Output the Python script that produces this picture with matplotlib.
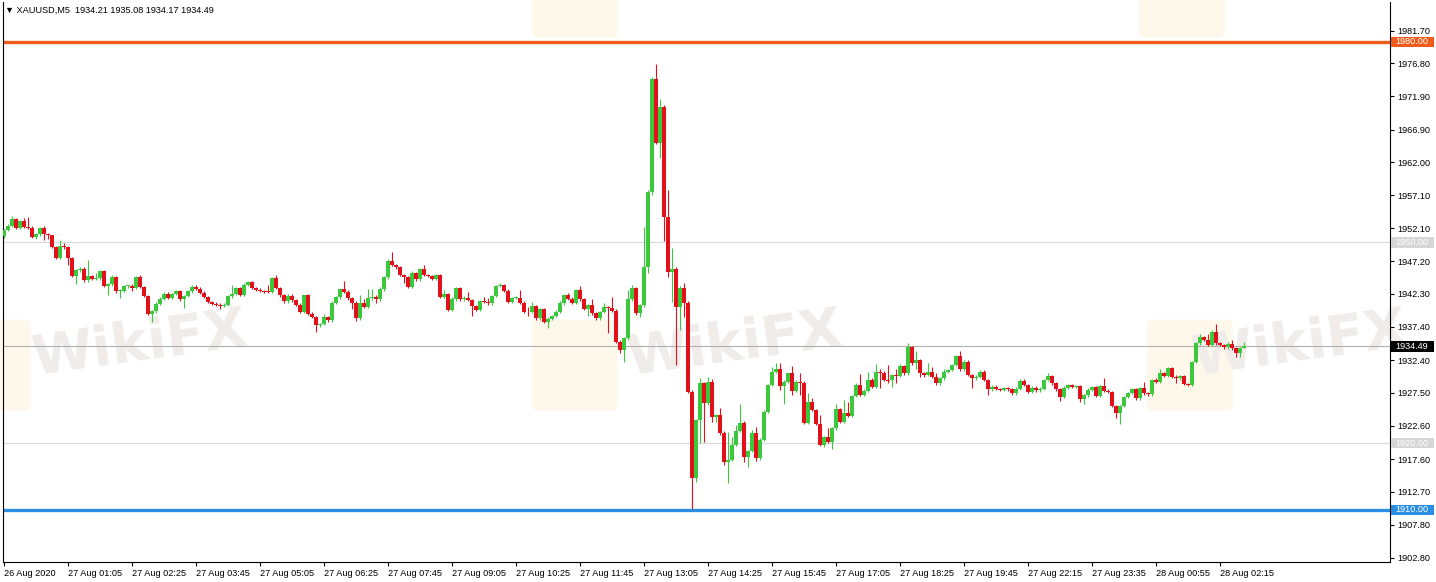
import numpy as np
import matplotlib.pyplot as plt
from matplotlib.patches import Rectangle, FancyBboxPatch
import matplotlib.transforms as mtransforms

# ---- data (XAUUSD M5) ----
first_open = 1950.9
closes = [
    1951.85, 1952.5, 1953.5, 1952.2, 1953.2, 1952.35, 1952.2, 1950.85, 1951.2, 1952.2,
    1951.2, 1951.15, 1949.35, 1947.75, 1949.5, 1949.3, 1947.7, 1945.0, 1945.85, 1946.1,
    1944.35, 1945.0, 1944.6, 1944.65, 1945.75, 1943.5, 1943.75, 1944.8, 1942.7, 1942.8,
    1943.45, 1943.5, 1943.25, 1944.8, 1943.35, 1942.0, 1939.35, 1939.7, 1940.85, 1941.6,
    1942.35, 1941.7, 1942.3, 1942.7, 1941.5, 1942.0, 1942.7, 1943.4, 1943.1, 1942.5,
    1941.85, 1941.1, 1940.85, 1940.7, 1940.5, 1940.7, 1941.95, 1942.3, 1943.15, 1942.2,
    1943.7, 1944.05, 1943.2, 1942.95, 1942.75, 1942.7, 1942.65, 1944.7, 1943.2, 1942.1,
    1941.2, 1942.05, 1941.35, 1940.7, 1939.6, 1942.1, 1939.35, 1938.85, 1937.6, 1937.8,
    1938.8, 1938.35, 1941.0, 1941.79, 1942.99, 1942.64, 1941.64, 1941.0, 1938.65, 1941.0,
    1940.4, 1941.64, 1941.84, 1941.49, 1942.99, 1944.78, 1947.28, 1946.63, 1946.28, 1945.13,
    1944.78, 1943.39, 1945.48, 1944.49, 1945.98, 1945.13, 1944.98, 1944.54, 1945.13, 1941.89,
    1942.29, 1939.9, 1941.49, 1943.14, 1941.49, 1941.74, 1941.39, 1940.5, 1939.9, 1941.24,
    1941.09, 1940.9, 1942.0, 1943.49, 1943.64, 1942.79, 1941.14, 1941.69, 1941.74, 1941.0,
    1939.65, 1939.6, 1940.5, 1938.65, 1940.0, 1938.15, 1938.6, 1939.0, 1939.65, 1940.9,
    1942.14, 1941.59, 1941.0, 1942.89, 1941.49, 1940.1, 1940.6, 1939.4, 1938.65, 1939.6,
    1940.3, 1940.15, 1939.8, 1935.16, 1933.92, 1935.66, 1941.5, 1943.14, 1939.4, 1940.65,
    1946.28, 1957.61, 1974.41, 1964.94, 1970.22, 1953.87, 1945.64, 1945.99, 1940.3, 1943.14,
    1940.9, 1927.68, 1914.72, 1923.45, 1928.93, 1925.94, 1929.18, 1923.84, 1924.14, 1921.55,
    1917.21, 1917.46, 1919.7, 1921.85, 1923.05, 1917.96, 1918.81, 1921.45, 1917.71, 1920.45,
    1924.69, 1928.68, 1930.68, 1931.03, 1928.53, 1929.18, 1930.43, 1927.83, 1929.18, 1929.03,
    1923.05, 1926.19, 1924.94, 1922.85, 1919.7, 1920.85, 1920.2, 1922.2, 1925.04, 1923.2,
    1924.54, 1924.04, 1927.04, 1928.68, 1927.19, 1927.83, 1929.43, 1928.43, 1930.63, 1930.43,
    1929.43, 1929.38, 1930.18, 1930.03, 1931.52, 1930.43, 1934.32, 1931.92, 1932.37, 1930.43,
    1930.23, 1930.68, 1929.93, 1928.93, 1929.68, 1930.68, 1930.93, 1931.67, 1933.02, 1931.03,
    1932.17, 1930.18, 1929.68, 1929.93, 1930.68, 1929.43, 1928.03, 1928.43, 1928.08, 1927.93,
    1928.23, 1928.03, 1927.44, 1928.13, 1929.33, 1928.68, 1927.68, 1928.28, 1927.88, 1928.13,
    1929.43, 1930.03, 1928.93, 1928.03, 1926.94, 1928.28, 1928.68, 1928.43, 1928.53, 1926.54,
    1927.14, 1927.98, 1928.33, 1927.04, 1928.53, 1927.83, 1927.63, 1925.54, 1924.44, 1925.54,
    1926.89, 1927.48, 1928.03, 1926.69, 1928.18, 1927.44, 1927.29, 1929.43, 1929.18, 1930.43,
    1930.08, 1931.18, 1929.93, 1929.68, 1930.03, 1928.83, 1928.68, 1932.12, 1934.92, 1935.81,
    1935.41, 1934.67, 1936.66, 1934.92, 1934.67, 1934.32, 1934.82, 1934.17, 1933.42, 1934.21,
    1934.49,
]
# upper / lower shadow lengths (price units)
wick_up = [
    .2, .2, .45, .2, .2, .5, 1.45, .2, .2, .15,
    .2, .2, 0, .2, .85, .4, .2, .2, .2, .3,
    .2, 2.35, .2, .8, .2, .2, .2, .3, .2, .2,
    .2, .1, .25, .2, .4, .2, .2, .2, .3, .2,
    .2, .3, .2, .2, .2, .2, .2, .2, .3, .2,
    .2, .2, .2, .2, .2, .2, .2, 1.3, .2, .2,
    .3, .2, .2, .2, .2, .2, .9, .2, .4, .2,
    .2, .2, .2, .2, .2, .1, .2, .2, .2, .2,
    .55, .2, .3, .2, .2, 1.25, .2, .2, .2, 1.14,
    .49, 1.35, 1.15, .3, .3, .2, .3, 1.34, .2, .2,
    .2, .2, .2, .1, .2, .65, .2, .2, .2, .2,
    .6, .2, .3, .2, .2, .2, .9, .2, .2, .2,
    .55, .55, .2, .2, .25, .2, .2, .2, .2, 1.15,
    .2, .75, .64, .2, .2, .2, .2, .2, .2, .3,
    .2, .35, .2, .2, .6, .2, .2, .9, .2, .2,
    .6, .2, 1.75, .2, .2, .2, 1.39, .5, .2, .2,
    6.09, .3, .3, 2.29, 1.2, .3, 3.98, 3.14, .3, .3,
    .75, .3, .3, .2, .75, .25, .65, .35, .2, 1.05,
    .2, 4.24, 1.25, .8, 2.8, .2, .2, .5, .9, .3,
    .2, .2, .65, .9, 1.0, .2, .1, 1.1, .2, 1.35,
    .2, 1.25, .5, .2, 1.34, .2, 1.35, .2, .8, .2,
    1.9, 1.65, .2, .35, 1.65, .2, 1.25, .3, 1.2, .4,
    .4, 2.24, .2, .85, .3, .2, .6, .2, 1.45, .15,
    .2, 1.35, .65, .5, .2, .35, .2, .2, .2, .8,
    .2, .2, .2, .2, .2, .2, .2, .2, .2, .2,
    .2, .2, .2, .2, .2, .2, .2, .2, .2, .2,
    .2, .5, .2, .2, .2, .2, .2, .2, .2, .2,
    .2, .2, .2, .2, .2, 1.15, .2, .2, .2, .2,
    .2, .2, .2, .2, .2, 1.0, .2, .2, .25, .6,
    .2, .2, .2, .2, .2, .2, .2, .2, .2, .5,
    .2, .9, .2, 1.14, .2, .2, .35, .6, .2, .2,
    .59,
]
wick_dn = [
    .2, .2, .2, .2, .2, .2, .2, .2, .4, .2,
    .85, .65, .2, .2, .15, .2, 1.0, .2, 1.15, .2,
    .2, .2, .2, .2, .2, .2, 1.4, .2, .2, 1.0,
    .2, .2, .55, .2, .2, .2, .2, 1.25, .2, .2,
    .2, .2, .2, .2, .2, 1.3, .2, .2, .2, .2,
    .2, .2, .2, .2, .5, .2, .2, .2, .2, .2,
    .2, .2, .2, .2, .2, .2, .2, .2, .2, .2,
    .2, .2, .2, .2, .2, .2, .2, .2, 1.0, .2,
    .2, .2, .3, .2, .2, .2, .2, 1.0, .35, .2,
    .2, .2, .2, .5, .2, .2, .2, .2, .2, .2,
    .89, .2, .2, .2, .2, .2, .2, .2, .2, .2,
    .2, .2, .2, .2, .2, .2, .2, 1.5, .2, .2,
    .2, .2, .2, .2, .2, .2, .2, .2, .2, .2,
    .2, .6, .2, .2, .2, .25, 1.0, .2, .2, .2,
    .2, .2, .2, .2, .2, .2, 1.1, .2, .2, .2,
    .2, 3.75, .2, .2, .4, 1.75, .2, .2, .2, .5,
    .3, .89, .5, .2, 2.34, 3.6, .75, 4.49, 8.63, 3.39,
    2.0, .2, 4.64, .5, 3.5, 5.74, .2, .65, .64, .35,
    .5, 3.24, .2, .2, .2, .75, 1.5, .2, .35, .2,
    .2, .2, .2, .2, .6, 2.69, .2, .65, .2, 1.84,
    .2, .2, .2, .2, .2, .25, .2, 1.14, .2, .2,
    .2, .2, .2, .2, .2, .2, .2, .2, .2, 2.25,
    .2, .45, 1.05, 1.0, .2, .2, .2, .2, .9, .5,
    .3, .2, .2, .2, .2, .2, .2, .2, .2, .2,
    .2, .2, 1.5, .2, .2, .2, .85, .2, .2, .2,
    .2, .2, .2, .2, .2, .2, .2, .2, .2, .2,
    .2, .2, .2, .2, .6, .2, .2, .2, .2, .35,
    .7, .2, .2, .2, .2, .2, .2, .2, .75, 1.59,
    .2, .2, .2, .2, .2, .2, .2, .2, .2, .2,
    .2, .2, .2, .75, .2, .2, .2, .2, .2, .2,
    .2, .2, .2, .2, .2, .2, .2, .2, .5, .6,
    .04,
]

x_ticks = [0, 16, 32, 48, 64, 80, 96, 112, 128, 144, 160, 176, 192, 208, 224, 240, 256, 272, 288, 304]
x_labels = ["26 Aug 2020", "27 Aug 01:05", "27 Aug 02:25", "27 Aug 03:45", "27 Aug 05:05",
            "27 Aug 06:25", "27 Aug 07:45", "27 Aug 09:05", "27 Aug 10:25", "27 Aug 11:45",
            "27 Aug 13:05", "27 Aug 14:25", "27 Aug 15:45", "27 Aug 17:05", "27 Aug 18:25",
            "27 Aug 19:45", "27 Aug 22:15", "27 Aug 23:35", "28 Aug 00:55", "28 Aug 02:15"]
y_ticks = [1981.70, 1976.80, 1971.90, 1966.90, 1962.00, 1957.10, 1952.10, 1947.20, 1942.30,
           1937.40, 1932.40, 1927.50, 1922.60, 1917.60, 1912.70, 1907.80, 1902.80]

level_prices = [1980.00, 1950.00, 1934.49, 1920.00, 1910.00]
level_colors = ["#f05a1a", "#d9d9d9", "#b0b0b0", "#d9d9d9", "#2a8fe3"]
level_widths = [2.4, 0.8, 0.8, 0.8, 2.4]
level_boxes = ["#f05a1a", "#d6d6d6", "#000000", "#d6d6d6", "#2a8fe3"]

header = "\u25bc XAUUSD,M5  1934.21 1935.08 1934.17 1934.49"

# ---- derived candle arrays ----
c = np.array(closes)
o = np.concatenate([[first_open], c[:-1]])
o[-1] = 1934.21
hi = np.maximum(o, c) + np.array(wick_up)
lo = np.minimum(o, c) - np.array(wick_dn)
idx = np.arange(len(c))
up = c >= o
green, red = "#3cc83c", "#e2101a"
cols = np.where(up, green, red)

W, H = 1436, 582
fig = plt.figure(figsize=(W / 100, H / 100), dpi=100)
fig.patch.set_facecolor("white")
ax = fig.add_axes([3 / W, 20 / H, 1387 / W, 560 / H])
ax.set_xlim(-0.25, 346.5)
ax.set_ylim(1902.2, 1985.98)

# faint watermarks (behind the candles)
for cx, cy in [(-12, 365), (575, 365), (1190, 365), (575, -8), (1182, -8)]:
    ax.add_patch(FancyBboxPatch(((cx - 34) / W, 1 - (cy + 42) / H), 68 / W, 84 / H,
                                boxstyle="round,pad=0.006", transform=fig.transFigure,
                                fc="#fef8ea", ec="none", zorder=0.2, clip_on=False))
for cx, cy in [(140, 345), (735, 345), (1300, 345)]:
    ax.text(cx / W, 1 - cy / H, "WikiFX", transform=fig.transFigure, fontsize=40,
            fontweight="bold", color="#efecea", rotation=8, ha="center", va="center",
            zorder=0.3, clip_on=False)

# level lines
for p, lc, lw in zip(level_prices, level_colors, level_widths):
    ax.axhline(p, color=lc, lw=lw, zorder=1)

# candles
ax.vlines(idx, lo, hi, colors=cols, lw=0.8, zorder=2)
body = np.where(np.abs(c - o) < 0.12, np.where(up, 0.12, -0.12), c - o)
ax.bar(idx, body, bottom=o, width=0.8, color=cols, linewidth=0, zorder=3)

# axes styling
for s in ["left", "bottom", "right"]:
    ax.spines[s].set_linewidth(0.8)
    ax.spines[s].set_color("black")
ax.spines["top"].set_visible(False)
ax.yaxis.tick_right()
ax.set_yticks(y_ticks)
ax.set_yticklabels([f"{v:.2f}" for v in y_ticks])
ax.set_xticks(x_ticks)
ax.set_xticklabels(x_labels, ha="left")
ax.tick_params(axis="both", direction="out", length=3, width=0.8, labelsize=6.6,
               colors="black", pad=2)
for lab in ax.get_xticklabels() + ax.get_yticklabels():
    lab.set_fontfamily("Liberation Sans")

# price boxes on the right scale
btrans = mtransforms.blended_transform_factory(ax.transAxes, ax.transData)
for p, bc in zip(level_prices, level_boxes):
    ax.add_patch(Rectangle((1.0007, p - 0.8), 0.031, 1.6, transform=btrans, fc=bc,
                           ec="none", zorder=5, clip_on=False))
    ax.text(1.0042, p, f"{p:.2f}", transform=btrans, fontsize=6.6, color="white",
            va="center", ha="left", family="Liberation Sans", zorder=6, clip_on=False)

fig.text(5 / W, 1 - 10 / H, header, fontsize=6.6, va="center", ha="left",
         family=["Liberation Sans", "DejaVu Sans"])

fig.savefig("out.png", dpi=100, facecolor="white")
